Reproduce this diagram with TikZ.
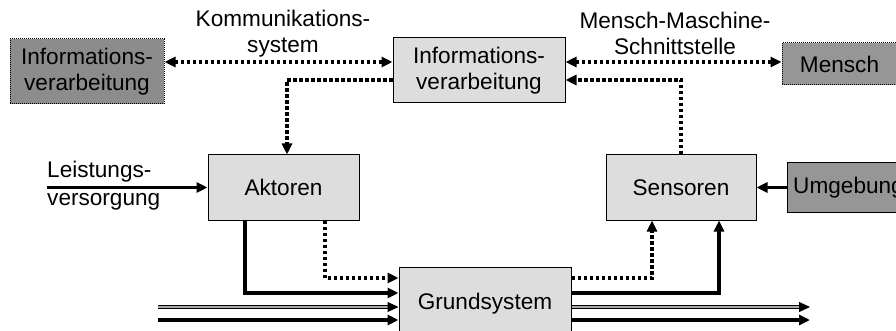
\documentclass[tikz,border=0pt]{standalone}
\usepackage{fontspec}
\setmainfont{Liberation Sans}
\usetikzlibrary{arrows.meta,calc}
\definecolor{lightbox}{RGB}{221,221,221}
\definecolor{darkbox}{RGB}{150,150,150}
\definecolor{darkerbox}{RGB}{140,140,140}
\definecolor{dblgray}{RGB}{170,170,170}
\begin{document}
\begin{tikzpicture}[x=1pt,y=-1pt,
  >={Triangle[length=11pt,width=10pt]},
  every node/.style={font=\fontsize{22.6}{26.5}\selectfont, inner sep=0pt, align=center},
  lbox/.style={draw=black, line width=1pt, fill=lightbox},
  dbox/.style={draw=black, line width=1pt, densely dotted, fill=darkbox},
  sbox/.style={draw=black, line width=1pt, fill=darkbox},
  dotline/.style={line width=3.3pt, dash pattern=on 3.3pt off 2.7pt},
  thickline/.style={line width=3.5pt},
  dblline/.style={line width=1.1pt, double=dblgray, double distance=1.3pt, shorten >=7pt},
  dbltip/.style={line width=1pt, ->}
]
\useasboundingbox (0,0) rectangle (896,331);
\clip (0,0) rectangle (896,331);

% boxes
\node[dbox, fill=darkerbox, minimum width=154pt, minimum height=65pt] (li) at (87,71.5) {Informations-\\verarbeitung};
\node[lbox, minimum width=172pt, minimum height=65pt] (mi) at (479,70.5) {Informations-\\verarbeitung};
\node[dbox, minimum width=115pt, minimum height=42pt] (me) at (839.5,64) {Mensch};
\node[lbox, minimum width=151pt, minimum height=65pt] (ak) at (283.5,187.5) {Aktoren};
\node[lbox, minimum width=150pt, minimum height=65pt] (se) at (681,187.5) {Sensoren};
\node[sbox, minimum width=123pt, minimum height=49pt] (ug) at (848.5,187.5) {Umgebung};
\node[lbox, minimum width=172pt, minimum height=74pt] (gs) at (485,304) {Grundsystem};

% labels
\node (lk) at (283,33.5) {Kommunikations-\\system};
\node (lm) at (675,33.5) {Mensch-Maschine-\\Schnittstelle};
\node[anchor=base west] (ll1) at (47,178) {Leistungs-};
\node[anchor=base west] (ll2) at (47,205) {versorgung};

% coordinates
\coordinate (mw1) at ([yshift=8.5pt]mi.west);
\coordinate (me1) at ([yshift=8.5pt]mi.east);
\coordinate (lv) at (47,187.5);
\coordinate (in1) at (158,307);
\coordinate (in2) at (158,320);
\coordinate (out1) at (810,307);
\coordinate (out2) at (810,320);

% information links
\draw[dotline,<->] (li.east |- mw1) -- (mw1);
\draw[dotline,<->] (me1) -- (me.west |- me1);
\draw[dotline,->] ([yshift=-9.5pt]mi.west) -| ([xshift=3.5pt]ak.north);
\draw[dotline,->] (se.north) |- ([yshift=-9.5pt]mi.east);

% power supply
\draw[thickline,->] (lv) -- (ak.west);

% actuators to base system
\draw[thickline,->] ([xshift=-38.5pt]ak.south) |- ([yshift=11pt]gs.west);
\draw[dotline,->] ([xshift=41.5pt]ak.south) |- ([yshift=26pt]gs.west);

% inputs to base system
\draw[dblline] (in1) -- (gs.west |- in1);
\draw[dbltip] ([xshift=-2pt]gs.west |- in1) -- (gs.west |- in1);
\draw[thickline,->] (in2) -- (gs.west |- in2);

% base system to sensors
\draw[dotline,->] ([yshift=26pt]gs.east) -| ([xshift=-29pt]se.south);
\draw[thickline,->] ([yshift=11pt]gs.east) -| ([xshift=38pt]se.south);

% outputs
\draw[dblline] (gs.east |- out1) -- (out1);
\draw[dbltip] ([xshift=-2pt]out1) -- (out1);
\draw[thickline,->] (gs.east |- out2) -- (out2);

% environment
\draw[thickline,->] (ug.west) -- (se.east);
\end{tikzpicture}
\end{document}
